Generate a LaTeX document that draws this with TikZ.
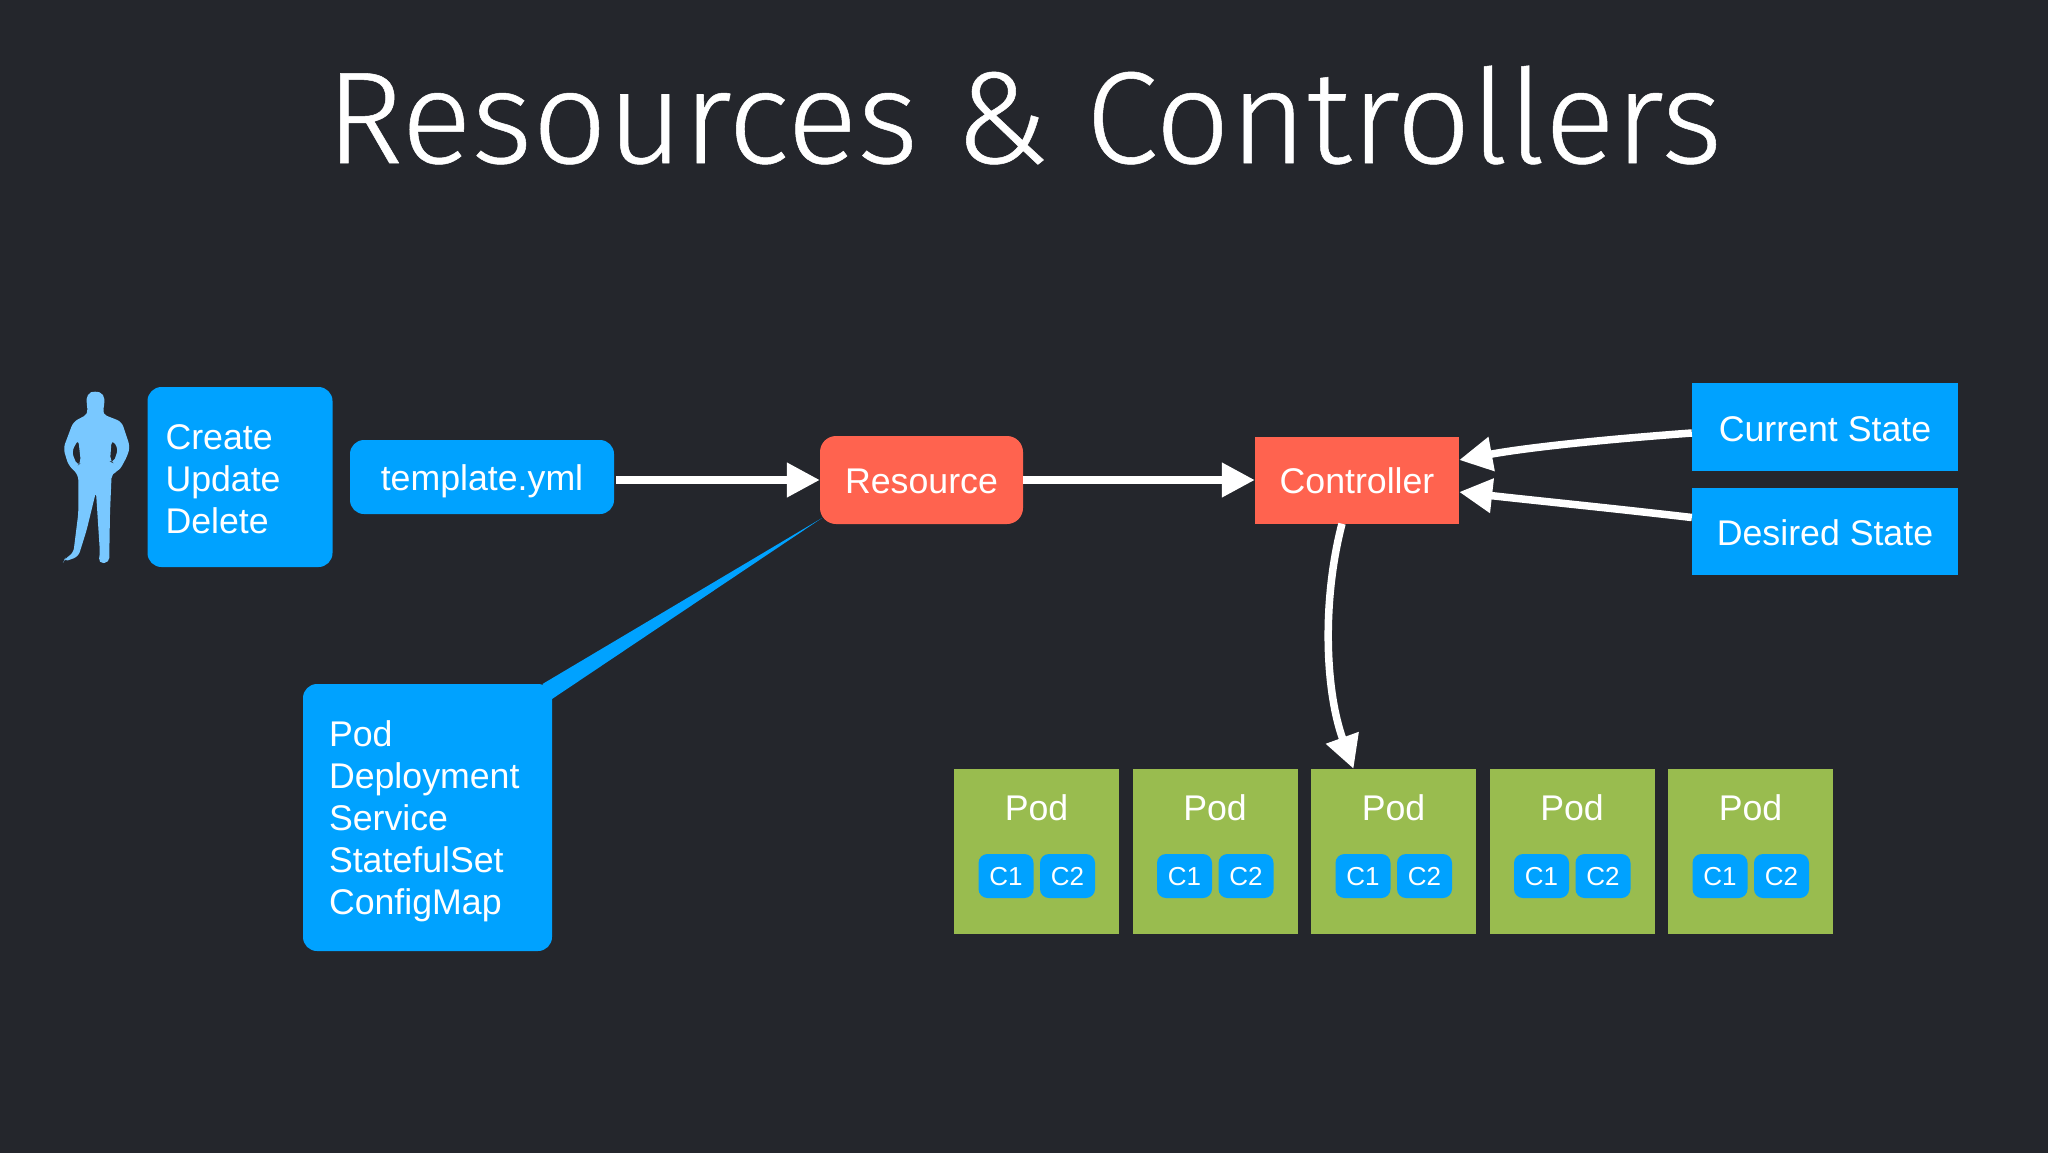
\documentclass[tikz,border=0pt]{standalone}
\usepackage{fontspec}
\setmainfont{Liberation Sans}
\newfontfamily\titlefont[FakeBold=0.4]{Fira Sans Light}
\usetikzlibrary{calc}
\usetikzlibrary{arrows.meta}

\definecolor{slidebg}{HTML}{24262C}
\definecolor{boxblue}{HTML}{00A2FF}
\definecolor{boxred}{HTML}{FF634F}
\definecolor{podgreen}{HTML}{99BC4F}
\definecolor{personblue}{HTML}{79C8FF}

\tikzset{
	bluebox/.style={fill=boxblue,text=white,inner sep=0pt,text height=26pt,text depth=0pt,font=\fontsize{35.7}{42}\selectfont},
	listbox/.style={fill=boxblue,rounded corners=14pt,text=white,inner sep=0pt,align=left,font=\fontsize{35.7}{42}\selectfont},
	redbox/.style={fill=boxred,text=white,inner sep=0pt,text height=26pt,text depth=0pt,font=\fontsize{35.7}{42}\selectfont},
	podbox/.style={fill=podgreen,minimum width=165pt,minimum height=165pt,inner sep=0pt},
	podname/.style={text=white,inner sep=0pt,anchor=base,font=\fontsize{35.7}{42}\selectfont},
	cbox/.style={fill=boxblue,rounded corners=9pt,minimum width=55pt,minimum height=44pt,inner sep=0pt,text=white,text height=18pt,text depth=0pt,font=\fontsize{26}{30}\selectfont},
	flow/.style={draw=white,line width=7.5pt,-{Triangle[length=33pt,width=33pt]}}
}

\begin{document}
\begin{tikzpicture}[x=1pt,y=-1pt]

\useasboundingbox (0,0) rectangle (2048,1152);
\fill[slidebg] (-4,-4) rectangle (2052,1156);													% Hintergrund

\node[text=white,anchor=base,inner sep=0pt,font=\titlefont\fontsize{131}{140}\selectfont] (title) at (1024,163) {Resources \& Controllers};

% person
\begin{scope}[shift={(50,380)},x=0.3333pt,y=-0.3333pt]
\fill[personblue,even odd rule,rounded corners=5pt] (135,32) -- (163,42) -- (163,80) -- (156,102) -- (215,125) -- (240,200) -- (232,228) -- (208,272) -- (185,280) -- (180,400) -- (178,520) -- (178,548) -- (145,550) -- (150,520) -- (138,335) -- (110,450) -- (85,530) -- (40,546) -- (45,535) -- (70,520) -- (85,400) -- (85,285) -- (55,255) -- (40,205) -- (70,125) -- (115,102) -- (110,75) -- (110,42) -- cycle
	(85,178) -- (65,215) -- (82,258) -- (93,250) -- cycle
	(185,178) -- (205,205) -- (190,250) -- (180,245) -- cycle;
\end{scope}

% linke Seite
\node[listbox,minimum width=185pt,minimum height=180pt,text width=149pt] (crud) at (240,477) {\rule{0pt}{28.5pt}Create\\Update\\Delete};
\node[bluebox,rounded corners=14pt,minimum width=264pt,minimum height=74pt] (tmpl) at (482,477) {template.yml};

% callout
\fill[boxblue] (542.5,684) -- (552,699) -- (822,518) -- cycle;
\node[listbox,minimum width=249pt,minimum height=267pt,text width=197pt] (kinds) at (427.5,817.5) {\rule{0pt}{33pt}Pod\\Deployment\\Service\\StatefulSet\\ConfigMap};

% Mitte
\node[redbox,rounded corners=16pt,minimum width=203pt,minimum height=88pt] (res) at (921.5,480) {Resource};
\node[redbox,minimum width=204pt,minimum height=87pt] (ctrl) at (1357,480) {Controller};

% rechts
\node[bluebox,text height=28pt,minimum width=266pt,minimum height=88pt] (cur) at (1825,427) {Current State};
\node[bluebox,text height=28pt,minimum width=266pt,minimum height=87pt] (des) at (1825,531.5) {Desired State};

% Pods
\foreach \i/\px in {1/1036.5,2/1215,3/1393.5,4/1572,5/1750.5}{
	\node[podbox] (pod\i) at (\px,851.5) {};
	\node[podname] (podname\i) at (\px,820) {Pod};
	\node[cbox] (cone\i) at (\px-30.5,876) {C1};
	\node[cbox] (ctwo\i) at (\px+31,876) {C2};
}

% Pfeile
\draw[flow] ([xshift=2pt]tmpl.east |- res.west) -- (res.west);
\draw[flow] (res.east) -- (ctrl.west);
\draw[flow] ([yshift=-6pt]cur.west) .. controls (1610,439) and (1530,447) .. ([yshift=20pt]ctrl.east);
\draw[flow] ([yshift=14pt]des.west) .. controls (1610,508) and (1530,500) .. ([yshift=-12pt]ctrl.east);
\draw[flow] ([xshift=-15pt]ctrl.south) .. controls (1322,600) and (1325,690) .. ([xshift=-40pt]pod3.north);

\end{tikzpicture}
\end{document}
